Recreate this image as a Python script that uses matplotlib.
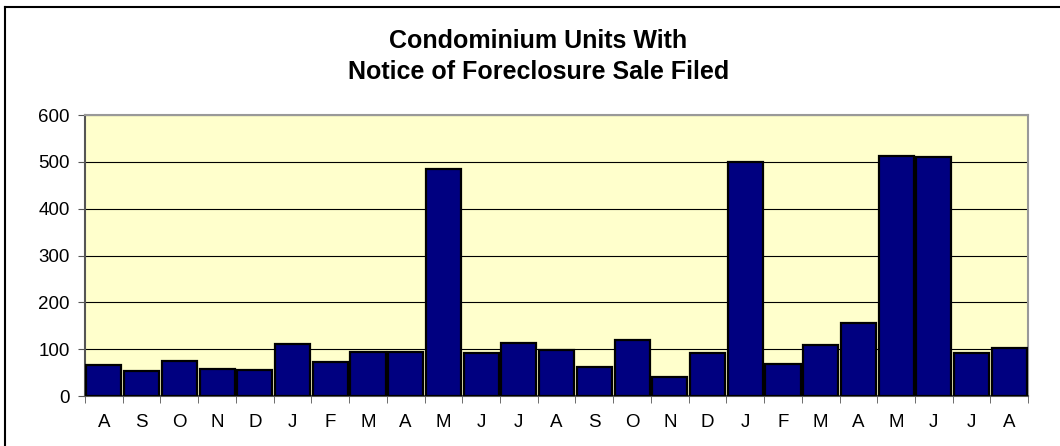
import numpy as np
import matplotlib.pyplot as plt
from matplotlib.lines import Line2D

plt.rcParams['font.family'] = ['Liberation Sans', 'DejaVu Sans']

# months Aug .. Aug (25 months)
months = ["A", "S", "O", "N", "D", "J", "F", "M", "A", "M", "J", "J", "A",
          "S", "O", "N", "D", "J", "F", "M", "A", "M", "J", "J", "A"]
units = [66, 54, 75, 57, 55, 112, 72, 95, 93, 485, 91, 114, 98,
         61, 119, 40, 92, 499, 69, 108, 157, 513, 510, 92, 103]
y_ticks = [0, 100, 200, 300, 400, 500, 600]

fig = plt.figure(figsize=(10.6, 4.46), dpi=100)
ax = fig.add_axes([0.0802, 0.112, 0.8898, 0.630])

x = np.arange(len(units))
ax.set_facecolor("#FFFFCC")
ax.yaxis.grid(True, color="black", linewidth=0.8)
ax.set_axisbelow(True)
ax.bar(x, units, width=0.93, color="#000080", edgecolor="black", linewidth=1.6, zorder=3)

ax.set_xlim(-0.5, len(units) - 0.5)
ax.set_ylim(0, 600)
ax.set_yticks(y_ticks)
ax.set_xticks(x)
ax.set_xticklabels(months)
ax.tick_params(axis="x", which="major", length=0, pad=13, labelsize=13.5)
ax.set_xticks(np.arange(len(units) + 1) - 0.5, minor=True)
ax.tick_params(axis="x", which="minor", length=5, direction="out", color="#555555")
ax.tick_params(axis="y", length=5, direction="out", pad=6, labelsize=13.5, color="#555555")

for side in ["top", "right"]:
    ax.spines[side].set_color("#999999")
    ax.spines[side].set_linewidth(1.5)
ax.spines["left"].set_color("#555555")
ax.spines["left"].set_linewidth(1.5)
ax.spines["bottom"].set_color("#555555")
ax.spines["bottom"].set_linewidth(1.5)

fig.text(0.508, 0.874, "Condominium Units With\nNotice of Foreclosure Sale Filed",
         ha="center", va="center", fontsize=18, fontweight="bold", linespacing=1.35)

# outer chart border (top and left edges visible)
fig.add_artist(Line2D([0.0047, 1.0], [0.984, 0.984], transform=fig.transFigure,
                      color="black", linewidth=1.5))
fig.add_artist(Line2D([0.0047, 0.0047], [0.0, 0.984], transform=fig.transFigure,
                      color="black", linewidth=1.5))

fig.savefig("out.png", dpi=100)
